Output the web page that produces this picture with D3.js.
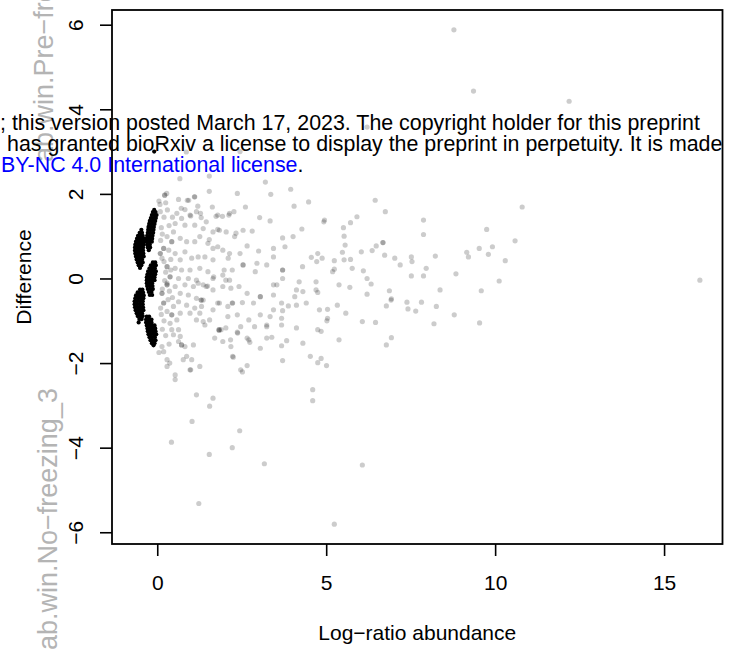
<!DOCTYPE html>
<html><head><meta charset="utf-8">
<script src="https://cdn.jsdelivr.net/npm/d3@7"></script>
<style>body{margin:0;background:#fff}svg{display:block}</style>
</head><body><div id="chart"></div>
<script>
// ---------- data ----------
const xTicks = [0, 5, 10, 15];
const yTicks = [-6, -4, -2, 0, 2, 4, 6];
const xLabel = "Log\u2212ratio abundance";
const yLabel = "Difference";

// dense (opaque black) features: rows of [difference, logratio, logratio, ...]
const blackRows = [
  // upper-left cluster
  [1.15,-0.47],[1.08,-0.52,-0.45],[1.01,-0.57,-0.49,-0.43],[0.94,-0.60,-0.52,-0.45,-0.39],
  [0.87,-0.63,-0.55,-0.47,-0.39],[0.80,-0.65,-0.57,-0.49,-0.41],[0.73,-0.66,-0.58,-0.50,-0.42],
  [0.66,-0.66,-0.58,-0.50,-0.42],[0.59,-0.65,-0.57,-0.49,-0.41],[0.52,-0.63,-0.55,-0.47,-0.40],
  [0.45,-0.61,-0.53,-0.45],[0.38,-0.58,-0.50,-0.43],[0.31,-0.55,-0.47],[0.25,-0.51],
  // upper-right cluster
  [1.62,-0.09],[1.57,-0.13,-0.05],[1.50,-0.16,-0.08,-0.02],[1.43,-0.19,-0.11,-0.04],[1.36,-0.22,-0.14,-0.06],
  [1.29,-0.24,-0.16,-0.08],[1.22,-0.26,-0.18,-0.10],[1.15,-0.27,-0.19,-0.11],[1.08,-0.28,-0.20,-0.12],
  [1.01,-0.30,-0.22,-0.14],[0.94,-0.31,-0.23,-0.15],[0.87,-0.31,-0.23,-0.16],[0.80,-0.30,-0.22],
  [0.73,-0.28,-0.21],[0.67,-0.25],
  // middle cluster
  [0.38,-0.13,-0.06],[0.31,-0.19,-0.11,-0.04],[0.24,-0.23,-0.15,-0.07],[0.17,-0.27,-0.19,-0.11,-0.04],
  [0.10,-0.29,-0.21,-0.13,-0.06],[0.03,-0.31,-0.23,-0.15,-0.08],[-0.04,-0.31,-0.23,-0.15,-0.08],
  [-0.11,-0.31,-0.23,-0.15],[-0.18,-0.30,-0.22,-0.14],[-0.25,-0.28,-0.20,-0.13],[-0.32,-0.25,-0.17],
  [-0.39,-0.22,-0.15],
  // lower-left cluster
  [-0.26,-0.51,-0.44],[-0.33,-0.58,-0.50,-0.42],[-0.40,-0.63,-0.55,-0.47,-0.40],[-0.47,-0.65,-0.57,-0.49,-0.41],
  [-0.54,-0.67,-0.59,-0.51,-0.43],[-0.61,-0.67,-0.59,-0.51,-0.43],[-0.68,-0.66,-0.58,-0.50,-0.42],
  [-0.75,-0.64,-0.56,-0.48,-0.41],[-0.82,-0.61,-0.53,-0.45],[-0.89,-0.58,-0.50,-0.43],[-0.96,-0.53,-0.46],
  [-1.04,-0.55],
  // lower-right cluster
  [-0.90,-0.31,-0.24],[-0.97,-0.33,-0.25,-0.17],[-1.04,-0.33,-0.25,-0.17],[-1.11,-0.31,-0.23,-0.15,-0.08],
  [-1.18,-0.29,-0.21,-0.13,-0.06],[-1.25,-0.28,-0.20,-0.12,-0.05],[-1.32,-0.26,-0.18,-0.10,-0.03],
  [-1.39,-0.23,-0.15,-0.07],[-1.46,-0.20,-0.12,-0.05],[-1.53,-0.16,-0.08],[-1.58,-0.11],
  // isolated
  [3.0,-0.09]
];

// translucent features: [logratio, difference]
const grayPoints = [
  [8.78,5.88],[9.36,4.43],[12.19,4.19],[16.06,-0.04],[6.21,3.58],[0.86,2.99],[2.45,3.0],[0.67,2.36],[1.54,2.42],
  [0.22,1.97],[0.22,1.97],[1.10,1.93],[1.54,2.06],[2.37,2.01],[3.20,2.28],[3.36,1.99],[3.95,2.11],
  [4.48,1.81],[0.28,2.01],[0.05,1.83],[0.25,1.79],[0.93,1.85],[0.71,1.66],[1.20,1.71],[0.99,1.48],[1.30,1.44],
  [1.74,1.47],[1.93,1.47],[2.12,1.50],[2.27,1.58],[2.61,1.69],[3.03,1.44],[3.34,1.36],[4.05,1.71],[4.95,1.38],
  [4.28,1.17],[4.02,0.99],[3.71,0.96],[3.78,0.75],[3.44,0.71],[3.00,0.65],[2.66,0.77],[2.45,0.59],[2.10,0.48],
  [1.79,1.16],[1.54,0.92],[1.79,0.75],[2.29,0.99],[2.54,1.14],[2.81,1.12],
  [2.54,0.32],[2.54,0.32],[2.90,0.16],[2.95,0.36],[3.24,0.32],[3.71,0.20],[3.71,0.20],[3.44,0.51],[4.30,0.28],
  [4.56,0.50],[4.75,0.59],[5.24,0.42],[5.53,0.44],[5.19,0.16],[4.70,-0.08],[4.31,-0.31],[4.75,-0.33],[4.20,-0.08],
  [3.71,0.0],[3.44,-0.15],[3.05,-0.43],[3.05,-0.43],[2.66,-0.35],[2.42,-0.19],[2.22,0.20],[1.98,0.20],[2.03,-0.04],
  [1.67,0.04],[1.49,-0.18],[1.30,-0.51],[1.30,-0.51],[1.79,-0.58],[2.22,-0.58],[2.52,-0.57],[2.85,-0.58],
  [3.68,-0.58],[3.44,-0.74],[4.12,-0.63],[4.41,-0.58],[4.80,-0.74],[5.33,-0.63],[5.58,-0.82],[5.04,-0.94],
  [4.75,-1.21],[4.12,-1.17],[3.68,-0.94],[3.24,-1.14],[3.05,-0.86],[2.71,-0.98],[2.37,-0.86],[2.47,-1.14],
  [2.03,-1.17],[1.83,-1.21],[1.83,-1.21],[2.17,-1.45],[2.71,-1.45],[3.24,-1.41],[3.83,-1.47],[4.31,-1.53],
  [4.85,-1.25],[5.38,-1.45],
  [0.09,1.58],[0.63,1.87],[0.89,1.85],[0.82,1.63],[1.11,1.93],[0.58,1.54],[0.72,1.42],[0.97,1.50],[1.16,1.58],
  [1.28,1.54],[1.45,1.34],[1.63,1.69],[1.79,1.50],[2.14,1.54],[0.53,1.30],[0.82,1.26],[1.11,1.26],[1.36,1.18],
  [1.65,1.10],[1.84,1.14],[2.04,1.10],[2.33,1.07],[0.48,1.10],[0.29,0.99],[0.43,0.87],[0.43,0.87],[0.68,0.95],
  [0.87,0.87],[1.11,0.87],[1.26,0.99],[1.50,0.83],[1.65,0.71],[1.94,0.67],[2.14,0.59],[0.19,0.71],[0.19,0.71],
  [0.09,0.59],[0.09,0.59],[0.14,0.48],[0.34,0.67],[0.53,0.59],[0.82,0.63],[0.68,0.44],[1.02,0.48],[1.21,0.51],
  [1.41,0.51],[1.65,0.44],[0.29,0.28],[0.29,0.28],[0.53,0.24],[0.72,0.20],[0.97,0.20],[1.26,0.24],[1.50,0.16],
  [0.38,0.04],[0.38,0.04],[0.63,0.0],[0.92,0.0],[1.16,-0.04],[1.65,0.0],[1.94,0.08],[2.14,-0.04],[0.29,-0.15],
  [0.29,-0.15],[0.53,-0.19],[0.82,-0.15],[1.07,-0.19],[1.36,-0.15],
  [0.29,-0.11],[0.14,-0.35],[0.14,-0.35],[0.19,-0.58],[0.19,-0.58],[0.29,-0.78],[0.43,-0.86],[0.43,-0.86],
  [0.38,-1.06],[0.48,-1.33],[0.63,-1.49],[0.14,-1.61],[0.19,-1.73],[0.29,-1.92],[0.29,-2.08],[0.53,-2.28],
  [0.53,-2.39],[0.72,-1.57],[0.72,-1.57],[0.82,-1.61],[0.77,-1.92],[1.07,-1.57],[1.02,-1.92],[0.87,-1.84],
  [1.26,-2.08],[0.97,-2.16],[0.63,-1.21],[0.68,-1.37],[0.43,-1.21],[0.58,-0.98],[0.68,-0.82],[0.48,-0.66],
  [0.63,-0.55],[0.87,-0.63],[0.92,-0.39],[0.68,-0.35],[1.16,-0.47],[1.36,-0.51],[1.31,-0.66],[1.11,-0.70],
  [0.97,-0.82],[1.26,-0.82],[1.36,-1.02],[1.16,-0.98],[1.55,-0.98],[1.41,-1.10],[1.65,-0.74],[1.84,-0.58],
  [2.09,-0.66],[2.23,-0.58],[1.70,-1.41],[1.89,-1.21],[1.94,-1.49],[2.09,-0.90],[2.18,-1.61],[2.23,-1.84],
  [2.38,-1.29],[2.47,-2.16],[1.16,-2.75],[1.65,-2.83],[1.55,-3.02],[1.94,-0.19],[2.18,-0.23],[1.65,-0.27],
  [1.45,-0.19],[1.21,-0.11],
  [0.37,-2.0],[0.99,-2.16],[1.03,-3.38],[0.42,-3.87],[1.54,-4.16],[2.22,-4.0],[2.44,-3.60],[3.17,-4.38],
  [1.23,-5.32],[5.24,-5.81],[2.52,-2.21],[2.66,-2.06],[2.25,-1.86],[3.71,-1.94],[3.68,-1.59],[3.05,-1.65],
  [2.74,-1.51],[2.37,-1.27],[2.88,-1.14],[3.39,-1.39],[3.24,-1.10],[4.53,-1.84],[4.75,-1.99],[4.85,-1.89],
  [5.01,-2.06],[4.60,-2.63],[4.60,-2.89],[5.02,-1.0],[5.04,-0.73],[5.38,-0.15],[4.12,-0.27],[3.88,-0.65],
  [3.71,-0.76],[3.68,-1.10],[3.34,-0.90],[2.66,-1.41],[1.83,-1.23],[3.44,-0.39],[3.54,-0.15],[4.07,-0.43],
  [4.70,-0.27],
  [6.07,-1.02],[6.46,-1.04],[6.78,-0.65],[6.92,-0.51],[7.39,-0.56],[7.42,-0.72],[7.65,-0.77],[7.82,-0.56],
  [8.26,-0.66],[8.79,-0.86],[8.19,-1.07],[9.54,-1.05],[6.78,-1.57],[6.93,-1.40],[6.07,-4.41],
  [6.45,1.85],[6.75,1.58],[10.80,1.69],[5.91,1.46],[5.72,1.32],[4.93,1.34],[5.51,1.20],[5.53,1.0],[5.56,0.79],
  [7.88,1.38],[7.88,1.04],[9.75,1.16],[10.59,0.89],[6.68,0.85],[6.68,0.85],[6.48,0.77],[6.36,0.66],[6.04,0.63],
  [5.48,0.62],[5.72,0.45],[4.88,0.48],[4.72,0.40],[5.77,0.24],[6.10,0.18],[6.21,0.0],[6.33,-0.13],[6.73,0.55],
  [7.03,0.48],[7.19,0.32],[7.52,0.51],[7.54,0.40],[7.52,0.06],[7.88,0.06],[7.96,0.24],[8.23,0.53],[8.37,-0.27],
  [8.84,0.11],[9.16,0.62],[9.21,0.51],[9.53,0.71],[9.80,0.57],[9.92,0.75],[10.30,0.42],[10.12,-0.06],[9.59,-0.29],
  [5.24,0.22],[5.70,-0.21],[6.21,-0.37],[6.87,-0.29],[6.93,-0.48],
  // darker band just right of the dense clusters
  [0.12,1.20],[0.15,1.05],[0.10,0.90],[0.20,0.40],[0.25,0.15],[0.22,-0.05],[0.15,-0.25],[0.10,-0.70],
  [0.12,-0.85],[0.20,-1.00],[0.15,-1.20],[0.25,-1.35],[0.05,-1.75],[0.35,-1.55],[0.45,-0.45],[0.40,0.45],
  [0.35,1.25],[0.20,1.45],[0.30,1.62],[0.40,0.20],[0.32,-0.50],[0.36,-0.30],[0.08,1.75],[0.45,1.45]
];

// text that overlays the figure on the page
const sideLabels = [
  {text: "ab.win.Pre\u2212freezing_3", x: 53, y: 162},
  {text: "ab.win.No\u2212freezing_3", x: 57, y: 650}
];
const bannerLines = [
  {x: 0, y: 130, parts: [{t: "; this version posted March 17, 2023. The copyright holder for this preprint", c: "#000"}]},
  {x: 7, y: 151, parts: [{t: "has granted bioRxiv a license to display the preprint in perpetuity. It is made", c: "#000"}]},
  {x: 1, y: 172, parts: [{t: "BY-NC 4.0 International license", c: "#0000ff"}, {t: ".", c: "#000"}]}
];

// ---------- layout ----------
const W = 733, H = 650;
const box = {left: 112, right: 722.5, top: 10, bottom: 544};
const FONT = "'Liberation Sans', Arial, Helvetica, sans-serif";
const FS = 21;

const blackPoints = blackRows.flatMap(r => r.slice(1).map(v => [v, r[0]]));
const allPts = blackPoints.concat(grayPoints);
const pad = e => { const r = e[1] - e[0]; return [e[0] - 0.04 * r, e[1] + 0.04 * r]; };
const x = d3.scaleLinear().domain(pad(d3.extent(allPts, d => d[0]))).range([box.left, box.right]);
const y = d3.scaleLinear().domain(pad(d3.extent(allPts, d => d[1]))).range([box.bottom, box.top]);

const svg = d3.select("#chart").append("svg").attr("width", W).attr("height", H)
  .style("font-family", FONT);

// side labels (grey, behind)
svg.append("g").selectAll("text").data(sideLabels).join("text")
  .attr("transform", d => `translate(${d.x},${d.y}) rotate(-90)`)
  .attr("font-size", 27).attr("fill", "#b4b4b4").text(d => d.text);

// points
const plot = svg.append("g");
plot.append("g").selectAll("circle").data(blackPoints).join("circle")
  .attr("cx", d => x(d[0])).attr("cy", d => y(d[1])).attr("r", 2.1).attr("fill", "#000");
plot.append("g").selectAll("circle").data(grayPoints).join("circle")
  .attr("cx", d => x(d[0])).attr("cy", d => y(d[1])).attr("r", 2.6)
  .attr("fill", "#000").attr("fill-opacity", 0.2);

// axes
const fmt = d => d < 0 ? "\u2212" + Math.abs(d) : String(d);
const gx = svg.append("g").attr("transform", `translate(0,${box.bottom})`)
  .call(d3.axisBottom(x).tickValues(xTicks).tickSize(12).tickPadding(19).tickFormat(fmt));
const gy = svg.append("g").attr("transform", `translate(${box.left},0)`)
  .call(d3.axisLeft(y).tickValues(yTicks).tickSize(12).tickFormat(fmt));
[gx, gy].forEach(g => {
  g.select(".domain").remove();
  g.selectAll("line").attr("stroke", "#000").attr("stroke-width", 1.6);
  g.selectAll("text").attr("font-size", FS).attr("font-family", FONT).attr("fill", "#000");
});
gy.selectAll("text").attr("x", null).attr("dy", null).attr("text-anchor", "middle")
  .attr("transform", `translate(${82.5 - box.left},0) rotate(-90)`);

// box
svg.append("rect").attr("x", box.left).attr("y", box.top)
  .attr("width", box.right - box.left).attr("height", box.bottom - box.top)
  .attr("fill", "none").attr("stroke", "#000").attr("stroke-width", 1.8);

// axis titles
svg.append("text").attr("x", (box.left + box.right) / 2).attr("y", 640)
  .attr("text-anchor", "middle").attr("font-size", FS).text(xLabel);
svg.append("text").attr("transform", `translate(31,${(box.top + box.bottom) / 2}) rotate(-90)`)
  .attr("text-anchor", "middle").attr("font-size", FS).text(yLabel);

// banner text on top
const bt = svg.append("g").selectAll("text").data(bannerLines).join("text")
  .attr("x", d => d.x).attr("y", d => d.y).attr("font-size", 21.4).attr("xml:space", "preserve");
bt.selectAll("tspan").data(d => d.parts).join("tspan").attr("fill", d => d.c).text(d => d.t);
</script>
</body></html>
